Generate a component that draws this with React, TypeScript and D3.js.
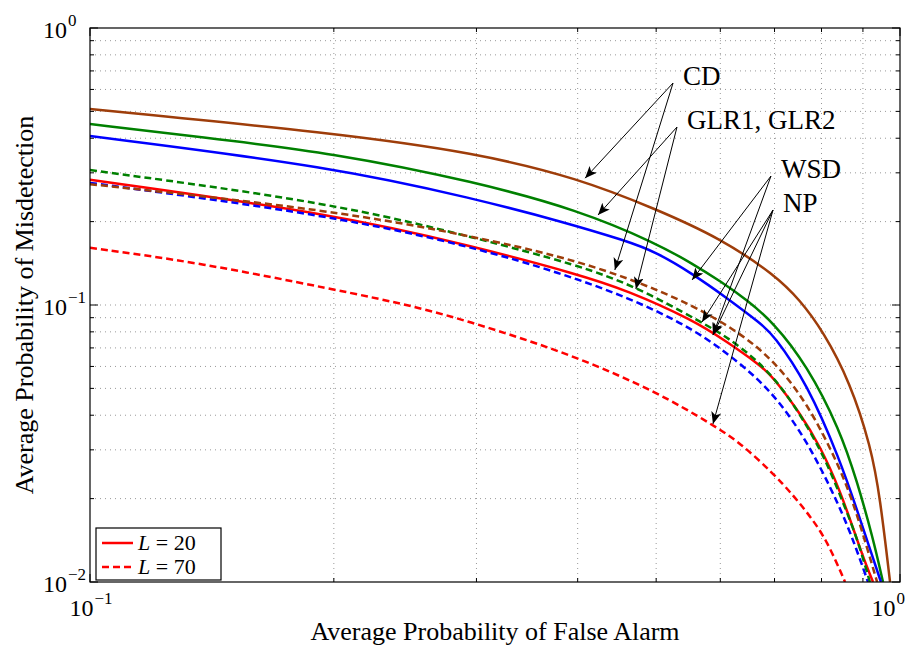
import React from "react";
import * as d3 from "d3";

const W = 922;
const H = 650;
const box = { left: 90, right: 900, top: 28, bottom: 582 };

// average probability of false alarm (x) / misdetection (y)
const cd20Pfa = [0.1, 0.2, 0.2996, 0.4005, 0.4998, 0.5995, 0.701, 0.7524, 0.8035, 0.8677, 0.9209, 0.9447, 0.9721];
const cd20Pm = [0.51, 0.418, 0.354, 0.287, 0.222, 0.1745, 0.1283, 0.1042, 0.0805, 0.0527, 0.0307, 0.0203, 0.01];

const glr20Pfa = [0.1, 0.1367, 0.2, 0.2996, 0.4005, 0.4998, 0.5551, 0.5995, 0.6474, 0.697, 0.7675, 0.8431, 0.885, 0.9262, 0.9528];
const glr20Pm = [0.45, 0.4042, 0.3537, 0.278, 0.2203, 0.1674, 0.1406, 0.1221, 0.1042, 0.0868, 0.0607, 0.0354, 0.0231, 0.0144, 0.01];

const wsd20Pfa = [0.1, 0.2, 0.2996, 0.3804, 0.4603, 0.4998, 0.5551, 0.6115, 0.6718, 0.697, 0.7675, 0.8431, 0.885, 0.9262, 0.9473];
const wsd20Pm = [0.4074, 0.3149, 0.2413, 0.201, 0.1702, 0.1553, 0.1294, 0.106, 0.0861, 0.0785, 0.0523, 0.0276, 0.0182, 0.0122, 0.01];

const np20Pfa = [0.1, 0.2, 0.2996, 0.4005, 0.4603, 0.5551, 0.6115, 0.6718, 0.697, 0.7524, 0.7966, 0.8431, 0.885, 0.9105, 0.9262];
const np20Pm = [0.283, 0.213, 0.162, 0.129, 0.113, 0.0883, 0.0737, 0.0607, 0.055, 0.0407, 0.031, 0.0215, 0.0142, 0.0113, 0.01];

const glr70Pfa = [0.1, 0.2, 0.2996, 0.4005, 0.4734, 0.5712, 0.6115, 0.6718, 0.7313, 0.8035, 0.8431, 0.885, 0.918];
const glr70Pm = [0.307, 0.2334, 0.1745, 0.1394, 0.1161, 0.0861, 0.0766, 0.0622, 0.0465, 0.0292, 0.0206, 0.0145, 0.01];

const cd70Pfa = [0.1, 0.2, 0.2996, 0.3804, 0.46, 0.555, 0.635, 0.697, 0.7675, 0.843, 0.885, 0.937];
const cd70Pm = [0.273, 0.22, 0.176, 0.15, 0.126, 0.1, 0.0792, 0.0633, 0.0447, 0.026, 0.0177, 0.01];

const wsd70Pfa = [0.1, 0.2, 0.2996, 0.3804, 0.46, 0.555, 0.635, 0.697, 0.7675, 0.843, 0.88, 0.913];
const wsd70Pm = [0.276, 0.21, 0.161, 0.1305, 0.107, 0.0826, 0.0617, 0.0481, 0.0326, 0.0187, 0.0136, 0.01];

const np70Pfa = [0.1, 0.1367, 0.1993, 0.2555, 0.318, 0.3995, 0.5011, 0.5876, 0.635, 0.697, 0.7376, 0.7744, 0.8127, 0.8554];
const np70Pm = [0.161, 0.142, 0.114, 0.0983, 0.0812, 0.0649, 0.0485, 0.0369, 0.0318, 0.0247, 0.0206, 0.0173, 0.0141, 0.01];

const BROWN = "#9e3d0a";
const GREEN = "#008000";
const BLUE = "#0000ff";
const RED = "#ff0000";

// drawing order: solid first, dashed on top
const series = [
  { pfa: cd20Pfa, pm: cd20Pm, color: BROWN, dashed: false },
  { pfa: glr20Pfa, pm: glr20Pm, color: GREEN, dashed: false },
  { pfa: wsd20Pfa, pm: wsd20Pm, color: BLUE, dashed: false },
  { pfa: np20Pfa, pm: np20Pm, color: RED, dashed: false },
  { pfa: np70Pfa, pm: np70Pm, color: RED, dashed: true },
  { pfa: wsd70Pfa, pm: wsd70Pm, color: BLUE, dashed: true },
  { pfa: glr70Pfa, pm: glr70Pm, color: GREEN, dashed: true },
  { pfa: cd70Pfa, pm: cd70Pm, color: BROWN, dashed: true },
];

// annotation labels: label anchor and where the arrows point (data coords)
const noteLabels = ["CD", "GLR1, GLR2", "WSD", "NP"];
const noteFrom = [[0.5246, 0.633], [0.5305, 0.439], [0.693, 0.2922], [0.697, 0.2203]];
const noteTips = [
  [[0.4085, 0.287], [0.4446, 0.1338]],
  [[0.4238, 0.2113], [0.472, 0.1142]],
  [[0.5537, 0.1231], [0.5876, 0.0779]],
  [[0.5696, 0.0868], [0.5876, 0.0779], [0.5876, 0.0372]],
];

const xTickLabels = [-1, 0];
const yTickLabels = [0, -1, -2];
const legendLabels = ["20", "70"];

const FONT = "'Liberation Serif', 'Times New Roman', serif";

export default function App() {
  const x = d3.scaleLog().domain([0.1, 1]).range([box.left, box.right]);
  const y = d3.scaleLog().domain([0.01, 1]).range([box.bottom, box.top]);

  const line = d3
    .line<[number, number]>()
    .x((d) => x(d[0]))
    .y((d) => y(d[1]))
    .curve(d3.curveBasis);

  const xt = x.ticks();
  const yt = y.ticks();
  const isMajor = (v: number) => Math.abs(Math.log10(v) - Math.round(Math.log10(v))) < 1e-6;
  const sup = (p: number) => (p < 0 ? "\u2212" + -p : String(p));

  return (
    <svg width={W} height={H} style={{ position: "absolute", left: 0, top: 0, background: "#fff" }}>
      <defs>
        <clipPath id="plotclip">
          <rect x={box.left} y={box.top} width={box.right - box.left} height={box.bottom - box.top} />
        </clipPath>
        <marker id="arr" viewBox="0 0 12 10" refX="12" refY="5" markerWidth="12" markerHeight="10"
          markerUnits="userSpaceOnUse" orient="auto">
          <path d="M0,0 L12,5 L0,10 L3,5 Z" fill="#000" />
        </marker>
      </defs>
      <rect x={0} y={0} width={W} height={H} fill="#fff" />

      {/* grid */}
      <g stroke="#999" strokeWidth={1} strokeDasharray="1,4">
        {xt.filter((v) => x(v) > box.left + 1 && x(v) < box.right - 1).map((v, i) => (
          <line key={"gx" + i} x1={x(v)} x2={x(v)} y1={box.top} y2={box.bottom} />
        ))}
        {yt.filter((v) => y(v) > box.top + 1 && y(v) < box.bottom - 1).map((v, i) => (
          <line key={"gy" + i} x1={box.left} x2={box.right} y1={y(v)} y2={y(v)} />
        ))}
      </g>

      {/* ticks, inside on all sides */}
      <g stroke="#000" strokeWidth={1}>
        {xt.map((v, i) => {
          const len = isMajor(v) ? 8 : 4;
          return (
            <g key={"tx" + i}>
              <line x1={x(v)} x2={x(v)} y1={box.bottom} y2={box.bottom - len} />
              <line x1={x(v)} x2={x(v)} y1={box.top} y2={box.top + len} />
            </g>
          );
        })}
        {yt.map((v, i) => {
          const len = isMajor(v) ? 8 : 4;
          return (
            <g key={"ty" + i}>
              <line x1={box.left} x2={box.left + len} y1={y(v)} y2={y(v)} />
              <line x1={box.right} x2={box.right - len} y1={y(v)} y2={y(v)} />
            </g>
          );
        })}
      </g>

      {/* curves */}
      <g clipPath="url(#plotclip)" fill="none">
        {series.map((s, i) => (
          <path
            key={"s" + i}
            d={line(s.pfa.map((v, j) => [v, s.pm[j]] as [number, number])) || ""}
            stroke={s.color}
            strokeWidth={2.5}
            strokeDasharray={s.dashed ? "7,4" : undefined}
          />
        ))}
      </g>

      <rect x={box.left} y={box.top} width={box.right - box.left} height={box.bottom - box.top}
        fill="none" stroke="#000" strokeWidth={1.2} />

      {/* tick labels */}
      <g fontFamily={FONT} fill="#000">
        {yTickLabels.map((p) => (
          <text key={"yl" + p} x={67} y={y(Math.pow(10, p)) + 10} fontSize={24} textAnchor="end">
            10
            <tspan x={68} dy={-12} fontSize={17} textAnchor="start">{sup(p)}</tspan>
          </text>
        ))}
        {xTickLabels.map((p) => {
          const cx = Math.min(x(Math.pow(10, p)), 888);
          const supW = p < 0 ? 17 : 9;
          const left = cx - (24 + supW) / 2;
          return (
            <text key={"xl" + p} x={left + 24} y={616} fontSize={24} textAnchor="end">
              10
              <tspan x={left + 25} dy={-12} fontSize={17} textAnchor="start">{sup(p)}</tspan>
            </text>
          );
        })}
      </g>

      {/* axis titles */}
      <text x={(box.left + box.right) / 2} y={640} fontFamily={FONT} fontSize={26} textAnchor="middle">
        Average Probability of False Alarm
      </text>
      <text transform={`translate(33,${(box.top + box.bottom) / 2}) rotate(-90)`} fontFamily={FONT}
        fontSize={26} textAnchor="middle">
        Average Probability of Misdetection
      </text>

      {/* annotations */}
      <g stroke="#000" strokeWidth={1}>
        {noteFrom.map((f, i) =>
          noteTips[i].map((t, j) => (
            <line key={"ar" + i + j} x1={x(f[0])} y1={y(f[1])} x2={x(t[0])} y2={y(t[1])} markerEnd="url(#arr)" />
          ))
        )}
      </g>
      <g fontFamily={FONT} fontSize={27} fill="#000">
        {noteLabels.map((lab, i) => (
          <text key={"nl" + i} x={x(noteFrom[i][0]) + 10} y={y(noteFrom[i][1]) + 2}>
            {lab}
          </text>
        ))}
      </g>

      {/* legend */}
      <g>
        <rect x={96} y={528} width={125} height={52} fill="#fff" stroke="#000" strokeWidth={1.2} />
        {legendLabels.map((lab, i) => (
          <g key={"lg" + i}>
            <line x1={102} x2={133} y1={543 + i * 24} y2={543 + i * 24} stroke={RED} strokeWidth={2.5}
              strokeDasharray={i === 1 ? "7,4" : undefined} />
            <text x={138} y={550 + i * 24} fontFamily={FONT} fontSize={22}>
              <tspan fontStyle="italic">L</tspan> = {lab}
            </text>
          </g>
        ))}
      </g>
    </svg>
  );
}
